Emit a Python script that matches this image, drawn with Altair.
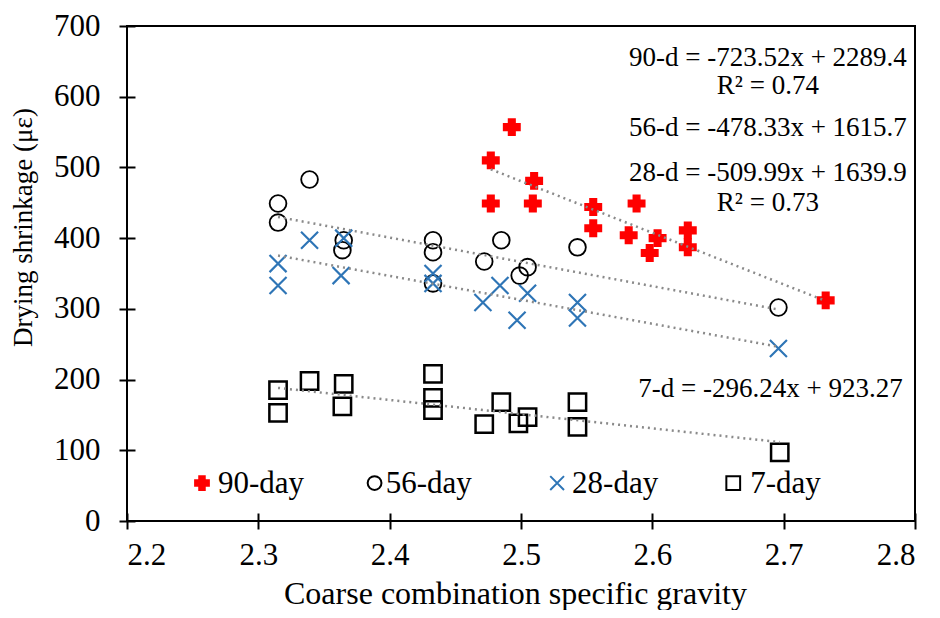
import altair as alt
import pandas as pd

# ---------------- data ----------------
series_names = ["90-day", "56-day", "28-day", "7-day"]

x90 = [2.477, 2.493, 2.510, 2.477, 2.509, 2.555, 2.555, 2.588, 2.582, 2.604, 2.598, 2.627, 2.627, 2.732]
y90 = [510, 557, 481, 449, 449, 444, 414, 449, 404, 400, 379, 411, 387, 312]

x56 = [2.315, 2.315, 2.339, 2.365, 2.364, 2.433, 2.433, 2.433, 2.472, 2.485, 2.499, 2.505, 2.543, 2.696]
y56 = [449, 422, 483, 397, 383, 397, 380, 336, 367, 397, 347, 359, 387, 302]

x28 = [2.315, 2.315, 2.339, 2.365, 2.363, 2.433, 2.433, 2.471, 2.484, 2.505, 2.497, 2.543, 2.543, 2.696]
y28 = [364, 333, 397, 400, 347, 350, 336, 309, 333, 322, 284, 309, 287, 244]

x7 = [2.315, 2.315, 2.339, 2.365, 2.364, 2.433, 2.433, 2.433, 2.472, 2.485, 2.498, 2.505, 2.543, 2.543, 2.697]
y7 = [185, 153, 198, 194, 162, 208, 174, 157, 137, 168, 138, 147, 168, 133, 97]

x_ticks = [2.2, 2.3, 2.4, 2.5, 2.6, 2.7, 2.8]
y_ticks = [0, 100, 200, 300, 400, 500, 600, 700]

eq_text = [
    "90-d = -723.52x + 2289.4",
    "R² = 0.74",
    "56-d = -478.33x + 1615.7",
    "28-d = -509.99x + 1639.9",
    "R² = 0.73",
    "7-d = -296.24x + 923.27",
]
eq_x = [2.688, 2.688, 2.688, 2.688, 2.688, 2.690]
eq_y = [644, 604.5, 545, 481, 439, 175]

# legend entries (in data units, inside the plot like the reference)
legend_symbol_x = [2.2571, 2.3885, 2.5275, 2.6616]
legend_text_x = [2.2693, 2.3970, 2.5389, 2.6745]
legend_symbol_y = 53.7
legend_text_y = 39.5

# ---------------- tables ----------------
rows = []
for name, xs, ys in zip(series_names, [x90, x56, x28, x7], [y90, y56, y28, y7]):
    for xv, yv in zip(xs, ys):
        rows.append({"series": name, "x": xv, "y": yv})
df = pd.DataFrame(rows)
eq_df = pd.DataFrame({"text": eq_text, "x": eq_x, "y": eq_y})
leg_df = pd.DataFrame({
    "series": series_names,
    "sx": legend_symbol_x,
    "tx": legend_text_x,
    "sy": [legend_symbol_y] * 4,
    "ty": [legend_text_y] * 4,
})

FONT = "Liberation Serif"
X_PATH = "M-1,-1L1,1M-1,1L1,-1"

xsc = alt.Scale(domain=[2.2, 2.8], nice=False, zero=False)
ysc = alt.Scale(domain=[0, 700], nice=False)
shape_sc = alt.Scale(domain=series_names, range=["cross", "circle", X_PATH, "square"])
stroke_sc = alt.Scale(domain=series_names, range=["#FF0000", "#000000", "#2E75B6", "#000000"])
fill_sc = alt.Scale(domain=series_names, range=["#FF0000", "transparent", "transparent", "transparent"])

x_axis = alt.Axis(
    values=x_ticks, format=".1f", title="Coarse combination specific gravity",
    titleX=388, titleY=90, titleBaseline="alphabetic", titleAlign="center",
    titleFontSize=32, labelPadding=11,
)
y_axis = alt.Axis(
    values=y_ticks, format="d", title="Drying shrinkage (με)",
    titleX=-112, titleY=201, titleAlign="center", titleBaseline="middle", titleAngle=270,
    titleFontSize=27, labelPadding=19,
)

points = alt.Chart(df).mark_point(opacity=1).encode(
    x=alt.X("x:Q", scale=xsc, axis=x_axis),
    y=alt.Y("y:Q", scale=ysc, axis=y_axis),
    shape=alt.Shape("series:N", scale=shape_sc, legend=None),
    stroke=alt.Stroke("series:N", scale=stroke_sc, legend=None),
    fill=alt.Fill("series:N", scale=fill_sc, legend=None),
    size=alt.Size("series:N", scale=alt.Scale(domain=series_names, range=[270, 300, 150, 270]), legend=None),
    strokeWidth=alt.StrokeWidth("series:N", scale=alt.Scale(domain=series_names, range=[1.5, 2.5, 2.5, 2.5]), legend=None),
)

lines = alt.Chart(df).transform_regression(
    "x", "y", groupby=["series"]
).mark_line(color="#8a8a8a", strokeWidth=2.5, strokeDash=[2, 4]).encode(
    x=alt.X("x:Q", scale=xsc),
    y=alt.Y("y:Q", scale=ysc),
    detail="series:N",
)

texts = alt.Chart(eq_df).mark_text(
    font=FONT, fontSize=27, color="black", align="center", baseline="alphabetic"
).encode(
    x=alt.X("x:Q", scale=xsc),
    y=alt.Y("y:Q", scale=ysc),
    text="text:N",
)

leg_symbols = alt.Chart(leg_df).mark_point(opacity=1, size=190, strokeWidth=2).encode(
    x=alt.X("sx:Q", scale=xsc),
    y=alt.Y("sy:Q", scale=ysc),
    shape=alt.Shape("series:N", scale=shape_sc, legend=None),
    stroke=alt.Stroke("series:N", scale=stroke_sc, legend=None),
    fill=alt.Fill("series:N", scale=fill_sc, legend=None),
)

leg_labels = alt.Chart(leg_df).mark_text(
    font=FONT, fontSize=31, color="black", align="left", baseline="alphabetic"
).encode(
    x=alt.X("tx:Q", scale=xsc),
    y=alt.Y("ty:Q", scale=ysc),
    text="series:N",
)

chart = alt.layer(points, lines, texts, leg_symbols, leg_labels).properties(
    width=788, height=495,
    autosize=alt.AutoSizeParams(type="none"),
    padding={"left": 119, "top": 18, "right": 17, "bottom": 89},
    background="white",
).configure_view(
    stroke="black", strokeWidth=2
).configure_axis(
    domain=False, grid=False, offset=-8, tickSize=16, tickWidth=2, tickColor="black",
    labelFont=FONT, labelFontSize=31, labelColor="black",
    titleFont=FONT, titleFontSize=28, titleFontWeight="normal", titleColor="black",
)

chart.save("out.html", embed_options={"renderer": "svg", "actions": False})
